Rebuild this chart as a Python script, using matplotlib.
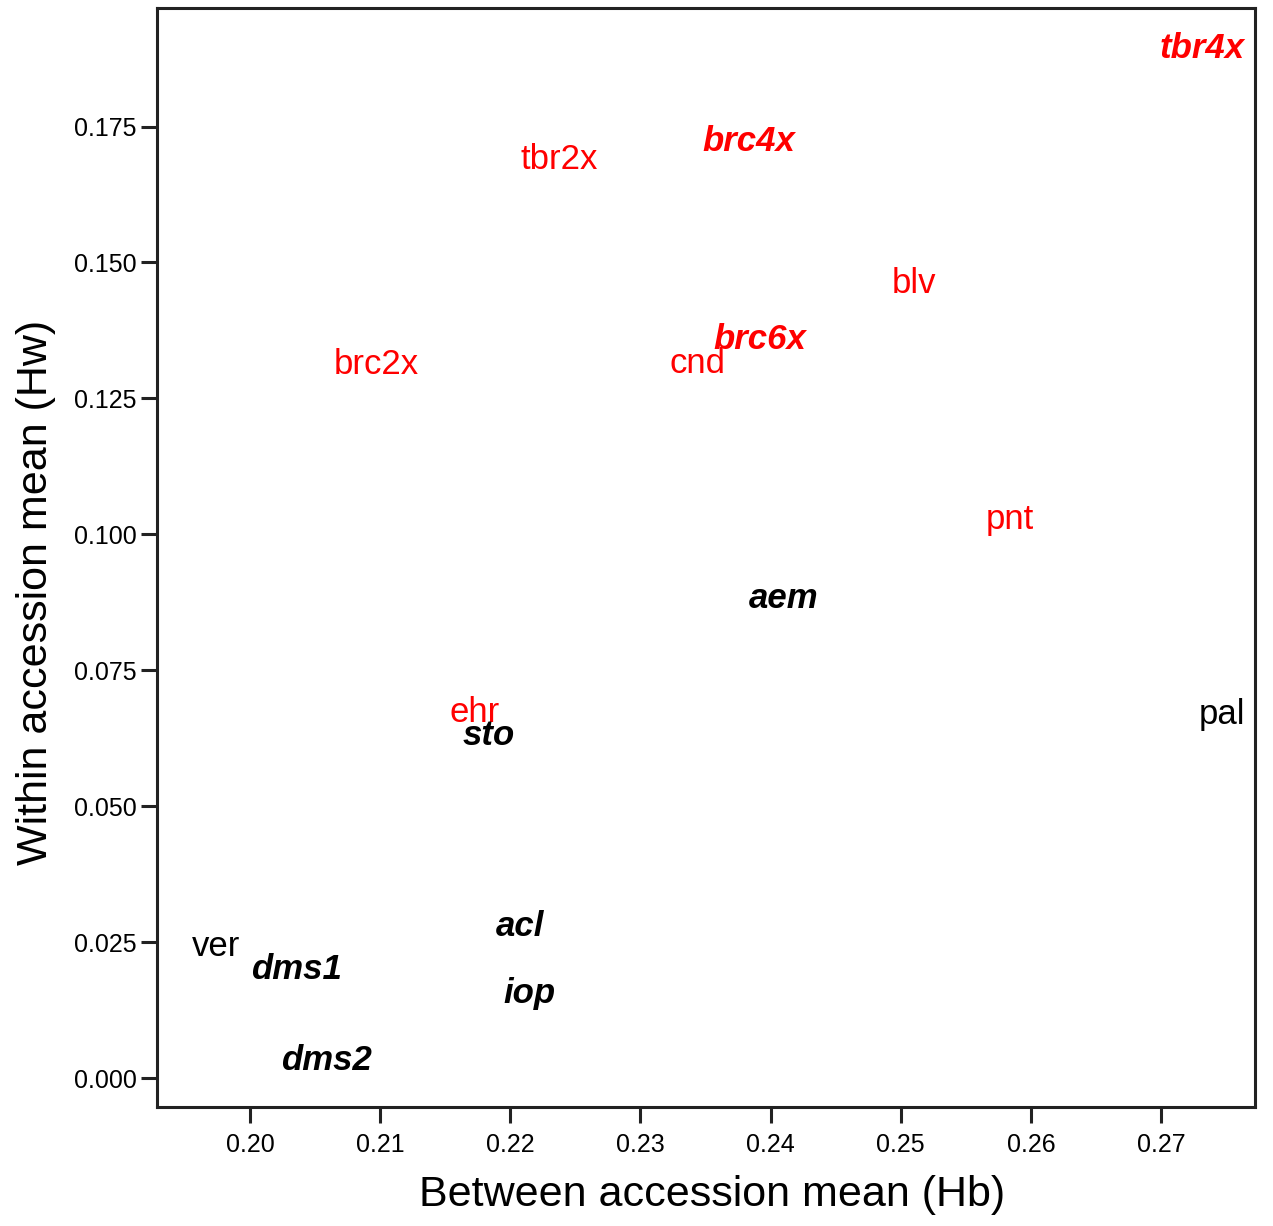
import matplotlib
matplotlib.use('Agg')
import matplotlib.pyplot as plt

plt.rcParams['font.family'] = ['Liberation Sans', 'DejaVu Sans']

# accession labels, Hb (x) and Hw (y)
labels = ['tbr4x', 'brc4x', 'tbr2x', 'blv', 'brc6x', 'cnd', 'brc2x', 'pnt',
          'aem', 'ehr', 'sto', 'pal', 'acl', 'ver', 'dms1', 'iop', 'dms2']
hb = [0.2699, 0.2348, 0.2208, 0.2493, 0.2356, 0.2322, 0.2064, 0.2565,
      0.2383, 0.2153, 0.2163, 0.2729, 0.2189, 0.1955, 0.2001, 0.2195, 0.2024]
hw = [0.1893, 0.1722, 0.1690, 0.1462, 0.1358, 0.1314, 0.1312, 0.1027,
      0.0882, 0.0673, 0.0630, 0.0668, 0.0278, 0.0242, 0.0200, 0.0156, 0.0033]
colors = ['red', 'red', 'red', 'red', 'red', 'red', 'red', 'red',
          'black', 'red', 'black', 'black', 'black', 'black', 'black', 'black', 'black']
bold = [True, True, False, False, True, False, False, False,
        True, False, True, False, True, False, True, True, True]

xticks = [0.20, 0.21, 0.22, 0.23, 0.24, 0.25, 0.26, 0.27]
yticks = [0.000, 0.025, 0.050, 0.075, 0.100, 0.125, 0.150, 0.175]

fig = plt.figure(figsize=(12.73, 12.26), dpi=100)
ax = fig.add_axes([0.1233, 0.0971, 0.8626, 0.8964])

for name, x, y, c, b in zip(labels, hb, hw, colors, bold):
    if b:
        ax.text(x, y, name, color=c, fontsize=25, ha='left', va='center',
                fontweight='bold', fontstyle='italic')
    else:
        ax.text(x, y, name, color=c, fontsize=25, ha='left', va='center')

ax.set_xlim(0.19285, 0.27723)
ax.set_ylim(-0.00530, 0.1968)
ax.set_xticks(xticks)
ax.set_xticklabels(['%.2f' % v for v in xticks])
ax.set_yticks(yticks)
ax.set_yticklabels(['%.3f' % v for v in yticks])

for s in ax.spines.values():
    s.set_linewidth(2.2)
    s.set_color('#222222')
ax.tick_params(axis='x', length=11.5, width=2.2, pad=7, labelsize=18, color='#222222')
ax.tick_params(axis='y', length=11.5, width=2.2, pad=3, labelsize=18, color='#222222')

ax.set_xlabel('Between accession mean (Hb)', fontsize=31)
ax.set_ylabel('Within accession mean (Hw)', fontsize=31)
ax.xaxis.set_label_coords(0.5055, -0.062)
ax.yaxis.set_label_coords(-0.092, 0.468)

fig.savefig('out.png', dpi=100)
